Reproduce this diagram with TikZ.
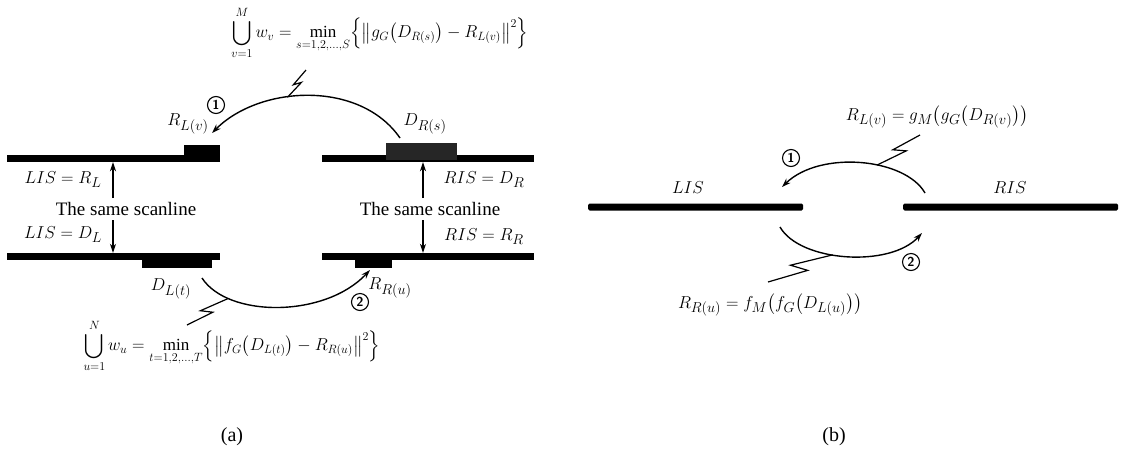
\documentclass[tikz,border=0pt]{standalone}
\usepackage{fontspec}
\setmainfont{Liberation Serif}
\usepackage{amsmath}
\usetikzlibrary{arrows.meta,positioning,calc}
\tikzset{
  bar/.style={fill=black,inner sep=0pt,minimum height=7pt},
  block/.style={fill=black,inner sep=0pt},
  conn/.style={line width=1.4pt,-{Stealth[length=9pt,width=6pt]}},
  vline/.style={line width=1.2pt,-{Stealth[length=9pt,width=6pt]}},
  circ/.style={draw,circle,line width=1.1pt,inner sep=1pt,minimum size=17pt,font=\fontsize{13}{13}\sffamily\bfseries},
  bolt/.style={line width=1.2pt,line join=miter},
  lbl/.style={inner sep=1pt},
  formula/.style={inner sep=0pt,font=\fontsize{17}{20}\selectfont}
}
\newcommand{\boltline}[2]{\draw[bolt] (#1) -- ($(#1)!0.62!-9:(#2)$) -- ($(#1)!0.42!9:(#2)$) -- (#2);}
\begin{document}
\begin{tikzpicture}[x=1pt,y=-1pt,font=\fontsize{19}{22}\selectfont]
\useasboundingbox (0,0) rectangle (1121,464);
% ---- (a) scanlines
\node[bar,minimum width=213pt] (lisTop) at (113.5,158.5) {};
\node[bar,minimum width=212pt] (risTop) at (428,158.5) {};
\node[bar,minimum width=213pt] (lisBot) at (113.5,256.5) {};
\node[bar,minimum width=212pt] (risBot) at (428,256.5) {};
\node[block,minimum width=36pt,minimum height=17pt] (rlvBlock) at (202,153.5) {};
\node[block,fill=black!85,minimum width=71pt,minimum height=17pt] (drsBlock) at (421.5,151.5) {};
\node[block,minimum width=70pt,minimum height=15pt] (dltBlock) at (177,260.5) {};
\node[block,minimum width=37pt,minimum height=15pt] (rruBlock) at (373.5,260.5) {};
% labels
\node[lbl] (lisRL) at (63,180) {$LIS = R_L$};
\node[lbl] (lisDL) at (63,235) {$LIS = D_L$};
\node[lbl] (risDR) at (484,180) {$RIS = D_R$};
\node[lbl] (risRR) at (484,237) {$RIS = R_R$};
\node[lbl] (sameL) at (126,209) {The same scanline};
\node[lbl] (sameR) at (430,209) {The same scanline};
\node[lbl] (rlvLab) at (188,124) {$R_{L(v)}$};
\node[lbl] (drsLab) at (425,124) {$D_{R(s)}$};
\node[lbl] (dltLab) at (171,289) {$D_{L(t)}$};
\node[lbl] (rruLab) at (390,288) {$R_{R(u)}$};
\node[circ] (oneA) at (216,105) {1};
\node[circ] (twoA) at (360,302) {2};
% vertical arrows
\coordinate (upL) at (113,198);
\coordinate (dnL) at (113,220);
\coordinate (upR) at (423,198);
\coordinate (dnR) at (423,220);
\draw[vline] (upL) -- (upL |- lisTop.south);
\draw[vline] (dnL) -- (dnL |- lisBot.north);
\draw[vline] (upR) -- (upR |- risTop.south);
\draw[vline] (dnR) -- (dnR |- risBot.north);
% arcs
\coordinate (a1s) at (400,138);
\coordinate (a1e) at (212,133);
\coordinate (a2s) at (202,278);
\coordinate (a2e) at (370,270);
\draw[conn] (a1s) .. controls (360,80) and (260,85) .. coordinate[pos=0.6] (bolt1) (a1e);
\draw[conn] (a2s) .. controls (228,318) and (325,318) .. coordinate[pos=0.22] (bolt2) (a2e);
% formulas
\node[formula] (fTop) at (380,33) {$\displaystyle\bigcup_{v=1}^{M} w_v = \min_{s=1,2,\ldots,S}\Bigl\{\bigl\| g_G\bigl(D_{R(s)}\bigr) - R_{L(v)}\bigr\|^2\Bigr\}$};
\node[formula] (fBot) at (232,346) {$\displaystyle\bigcup_{u=1}^{N} w_u = \min_{t=1,2,\ldots,T}\Bigl\{\bigl\| f_G\bigl(D_{L(t)}\bigr) - R_{R(u)}\bigr\|^2\Bigr\}$};
\coordinate (bolt1e) at (306,70);
\coordinate (bolt2e) at (187,325);
\boltline{bolt1}{bolt1e}
\boltline{bolt2}{bolt2e}
% ---- (b)
\node[bar,rounded corners=1.5pt,minimum width=215pt] (lisB) at (695.5,207) {};
\node[bar,rounded corners=1.5pt,minimum width=215pt] (risB) at (1010.5,207) {};
\node[lbl] (lisBLab) at (688,188) {$LIS$};
\node[lbl] (risBLab) at (1010,188) {$RIS$};
\node[circ] (oneB) at (791,158) {1};
\node[circ] (twoB) at (911,262) {2};
\coordinate (b1s) at (925,193);
\coordinate (b1e) at (782,187);
\coordinate (b2s) at (780,227);
\coordinate (b2e) at (922,233);
\draw[conn] (b1s) .. controls (905,158) and (820,150) .. coordinate[pos=0.4] (bolt3) (b1e);
\draw[conn] (b2s) .. controls (800,262) and (890,268) .. coordinate[pos=0.42] (bolt4) (b2e);
\node[formula,font=\fontsize{19}{22}\selectfont] (fTopB) at (937,117) {$R_{L(v)} = g_M\bigl(g_G\bigl(D_{R(v)}\bigr)\bigr)$};
\node[formula,font=\fontsize{19}{22}\selectfont] (fBotB) at (770,305) {$R_{R(u)} = f_M\bigl(f_G\bigl(D_{L(u)}\bigr)\bigr)$};
\coordinate (bolt3e) at (920,135);
\coordinate (bolt4e) at (768,282);
\boltline{bolt3}{bolt3e}
\boltline{bolt4}{bolt4e}
% captions
\node[lbl,font=\fontsize{20}{24}\selectfont] (capA) at (232,437) {(a)};
\node[lbl,font=\fontsize{20}{24}\selectfont] (capB) at (834,437) {(b)};
\end{tikzpicture}
\end{document}
